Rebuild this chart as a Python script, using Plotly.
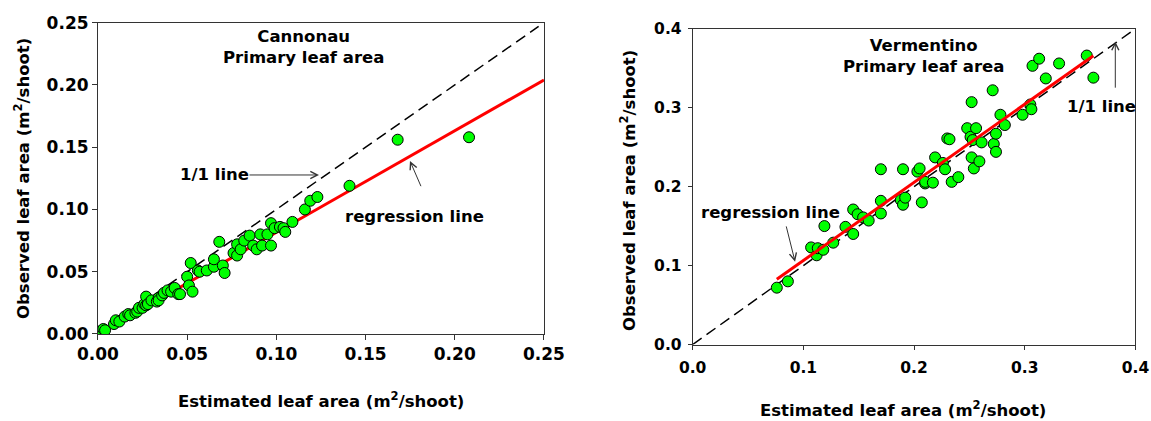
import plotly.graph_objects as go
from plotly.subplots import make_subplots

# Cannonau - estimated vs observed primary leaf area (m2/shoot)
cann_est = [0.001, 0.002, 0.003, 0.004, 0.009, 0.010, 0.012, 0.015, 0.017, 0.018,
            0.021, 0.022, 0.023, 0.025, 0.026, 0.027, 0.027, 0.028, 0.030, 0.033,
            0.034, 0.034, 0.036, 0.037, 0.039, 0.041, 0.043, 0.045, 0.046, 0.050,
            0.051, 0.052, 0.053, 0.056, 0.057, 0.061, 0.065, 0.065, 0.068, 0.070,
            0.071, 0.076, 0.078, 0.078, 0.080, 0.082, 0.085, 0.087, 0.089, 0.091,
            0.092, 0.095, 0.097, 0.097, 0.099, 0.102, 0.104, 0.105, 0.109, 0.116,
            0.119, 0.123, 0.141, 0.168, 0.208]
cann_obs = [0.002, 0.002, 0.004, 0.003, 0.008, 0.011, 0.010, 0.014, 0.016, 0.015,
            0.017, 0.018, 0.021, 0.021, 0.024, 0.023, 0.030, 0.024, 0.027, 0.026,
            0.029, 0.027, 0.031, 0.033, 0.035, 0.034, 0.037, 0.032, 0.032, 0.046,
            0.039, 0.057, 0.034, 0.051, 0.050, 0.051, 0.054, 0.060, 0.074, 0.055,
            0.049, 0.065, 0.072, 0.063, 0.068, 0.075, 0.079, 0.071, 0.068, 0.080,
            0.071, 0.080, 0.071, 0.089, 0.085, 0.086, 0.085, 0.082, 0.090, 0.100,
            0.107, 0.110, 0.119, 0.156, 0.158]
cann_fit_x = [0.0, 0.25]
cann_slope, cann_int = 0.816, 0.0

# Vermentino
verm_est = [0.076, 0.086, 0.107, 0.112, 0.113, 0.118, 0.119, 0.127, 0.138, 0.145,
            0.145, 0.149, 0.154, 0.159, 0.170, 0.170, 0.170, 0.188, 0.190, 0.192,
            0.190, 0.203, 0.205, 0.207, 0.210, 0.210, 0.217, 0.219, 0.226, 0.228,
            0.230, 0.232, 0.234, 0.240, 0.248, 0.251, 0.252, 0.252, 0.253, 0.254,
            0.256, 0.259, 0.261, 0.271, 0.272, 0.274, 0.274, 0.278, 0.282, 0.298,
            0.305, 0.306, 0.307, 0.313, 0.319, 0.331, 0.356, 0.362]
verm_obs = [0.072, 0.080, 0.123, 0.113, 0.122, 0.120, 0.150, 0.129, 0.149, 0.171,
            0.140, 0.165, 0.161, 0.157, 0.222, 0.182, 0.166, 0.183, 0.177, 0.186,
            0.222, 0.219, 0.223, 0.180, 0.204, 0.206, 0.205, 0.237, 0.230, 0.222,
            0.261, 0.260, 0.206, 0.212, 0.274, 0.263, 0.307, 0.237, 0.259, 0.223,
            0.274, 0.232, 0.256, 0.322, 0.254, 0.267, 0.244, 0.291, 0.278, 0.291,
            0.304, 0.298, 0.353, 0.362, 0.337, 0.356, 0.366, 0.338]
verm_fit_x = [0.076, 0.362]
verm_slope, verm_int = 0.99, 0.0074

cann_one = [0.0, 0.247]
verm_one = [0.0, 0.4]

FONT = "DejaVu Sans"
green = "#00ff00"

fig = make_subplots(rows=1, cols=2)

# left panel
fig.add_trace(go.Scatter(x=cann_one, y=cann_one, mode="lines",
                         line=dict(color="black", width=1.5, dash="11px,6px")), row=1, col=1)
fig.add_trace(go.Scatter(x=cann_fit_x, y=[cann_slope * v + cann_int for v in cann_fit_x], mode="lines",
                         line=dict(color="#ff0000", width=3)), row=1, col=1)
fig.add_trace(go.Scatter(x=cann_est, y=cann_obs, mode="markers",
                         marker=dict(color=green, size=11, line=dict(color="black", width=1))), row=1, col=1)

# right panel
fig.add_trace(go.Scatter(x=verm_one, y=verm_one, mode="lines",
                         line=dict(color="black", width=1.5, dash="11px,6px")), row=1, col=2)
fig.add_trace(go.Scatter(x=verm_est, y=verm_obs, mode="markers",
                         marker=dict(color=green, size=11, line=dict(color="black", width=1))), row=1, col=2)
fig.add_trace(go.Scatter(x=verm_fit_x, y=[verm_slope * v + verm_int for v in verm_fit_x], mode="lines",
                         line=dict(color="#ff0000", width=3)), row=1, col=2)

axstyle = dict(showgrid=False, zeroline=False, showline=True, linecolor="#333333", linewidth=1,
               mirror=True, ticks="outside", ticklen=5, tickcolor="#333333", automargin=False,
               tickfont=dict(family=FONT, size=17, color="black", weight="bold"))
small_ticks = dict(family=FONT, size=15.5, color="black", weight="bold")

fig.update_xaxes(axstyle, range=[0, 0.25], dtick=0.05, tickformat=".2f",
                 domain=[0.0851, 0.4726], row=1, col=1)
fig.update_yaxes(axstyle, range=[0, 0.25], dtick=0.05, tickformat=".2f",
                 domain=[0.2067, 0.9461], row=1, col=1)
fig.update_xaxes(axstyle, range=[0, 0.4], dtick=0.1, tickformat=".1f", ticklen=4,
                 tickfont=small_ticks, ticklabelstandoff=5,
                 domain=[0.6018, 0.9865], row=1, col=2)
fig.update_yaxes(axstyle, range=[0, 0.4], dtick=0.1, tickformat=".1f", ticklen=4,
                 tickfont=small_ticks, ticklabelstandoff=3,
                 domain=[0.1817, 0.9318], row=1, col=2)

tf = dict(family=FONT, size=16.5, color="black")
ann = []
# titles inside panels
ann.append(dict(x=0.115, y=0.2305, xref="x", yref="y", text="<b>Cannonau<br>Primary leaf area</b>",
                showarrow=False, font=tf))
ann.append(dict(x=0.2082, y=0.365, xref="x2", yref="y2", text="<b>Vermentino<br>Primary leaf area</b>",
                showarrow=False, font=tf))
# line labels
ann.append(dict(x=0.0656, y=0.1277, xref="x", yref="y", text="<b>1/1 line</b>", showarrow=False, font=tf))
ann.append(dict(x=0.1777, y=0.0942, xref="x", yref="y", text="<b>regression line</b>", showarrow=False, font=tf))
ann.append(dict(x=0.3689, y=0.3014, xref="x2", yref="y2", text="<b>1/1 line</b>", showarrow=False, font=tf))
ann.append(dict(x=0.0699, y=0.1676, xref="x2", yref="y2", text="<b>regression line</b>", showarrow=False, font=tf))
# arrows
arr = dict(text="", showarrow=True, arrowhead=5, arrowsize=1.4, arrowwidth=1, arrowcolor="#333333",
           standoff=0, startstandoff=0)
ann.append(dict(arr, x=0.1239, y=0.1277, ax=0.0841, ay=0.1277, xref="x", yref="y", axref="x", ayref="y"))
ann.append(dict(arr, x=0.1749, y=0.139, ax=0.1814, ay=0.1175, xref="x", yref="y", axref="x", ayref="y"))
ann.append(dict(arr, x=0.3818, y=0.3838, ax=0.3818, ay=0.3234, xref="x2", yref="y2", axref="x2", ayref="y2"))
ann.append(dict(arr, x=0.0925, y=0.1049, ax=0.0842, ay=0.1515, xref="x2", yref="y2", axref="x2", ayref="y2"))
# axis titles
xt = "<b>Estimated leaf area (m<sup>2</sup>/shoot)</b>"
yt = "<b>Observed leaf area (m<sup>2</sup>/shoot)</b>"
ann.append(dict(x=0.2789, y=0.0499, xref="paper", yref="paper", text=xt, showarrow=False, font=tf))
ann.append(dict(x=0.7845, y=0.0285, xref="paper", yref="paper", text=xt, showarrow=False, font=tf))
ann.append(dict(x=0.0191, y=0.5772, xref="paper", yref="paper", text=yt, showarrow=False, font=tf, textangle=-90))
ann.append(dict(x=0.5456, y=0.5487, xref="paper", yref="paper", text=yt, showarrow=False, font=tf, textangle=-90))
for a in ann:
    a.setdefault("xanchor", "center")
    a.setdefault("yanchor", "middle")

fig.update_layout(width=1151, height=421, margin=dict(l=0, r=0, t=0, b=0, autoexpand=False), autosize=False,
                  showlegend=False, plot_bgcolor="white", paper_bgcolor="white",
                  annotations=ann)
# drop the default 8px body margin so the figure fills the window
fig.write_html("out.html", config={"displayModeBar": False},
               post_script="document.body.style.margin='0px'; document.body.style.overflow='hidden';")
